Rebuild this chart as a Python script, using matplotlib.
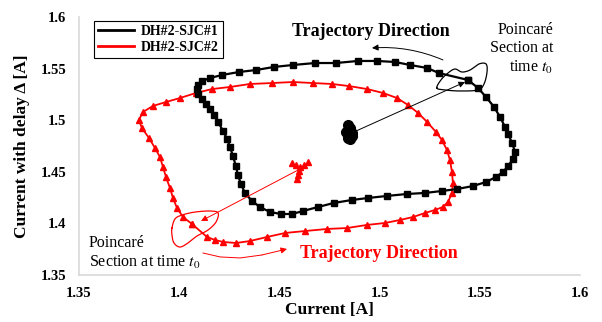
import numpy as np
import matplotlib.pyplot as plt
from matplotlib.lines import Line2D

plt.rcParams['font.family'] = 'Liberation Serif'
plt.rcParams['mathtext.fontset'] = 'stix'

# DH#2-SJC#1 limit cycle (current, current with delay)
sjc1_x = [1.5441, 1.5296, 1.5237, 1.5152, 1.5077, 1.4987, 1.4892, 1.4782, 1.4678,
          1.4568, 1.4473, 1.4383, 1.4298, 1.4214, 1.4154, 1.4114, 1.4094, 1.4089,
          1.4094, 1.4114, 1.4134, 1.4154, 1.4174, 1.4194, 1.4219, 1.4239, 1.4254,
          1.4268, 1.4283, 1.4293, 1.4308, 1.4328, 1.4363, 1.4403, 1.4453, 1.4508,
          1.4563, 1.4618, 1.4693, 1.4772, 1.4862, 1.4942, 1.5037, 1.5137, 1.5227,
          1.5311, 1.5386, 1.5466, 1.5531, 1.5581, 1.5616, 1.5641, 1.5666, 1.5676,
          1.5661, 1.5641, 1.5626, 1.5601, 1.5571, 1.5531, 1.5491, 1.5441]
sjc1_y = [1.5390, 1.5457, 1.5506, 1.5535, 1.5564, 1.5574, 1.5574, 1.5554, 1.5554,
          1.5535, 1.5516, 1.5486, 1.5467, 1.5438, 1.5409, 1.5380, 1.5341, 1.5302,
          1.5254, 1.5205, 1.5157, 1.5109, 1.5050, 1.4983, 1.4895, 1.4818, 1.4740,
          1.4653, 1.4556, 1.4469, 1.4382, 1.4295, 1.4217, 1.4159, 1.4110, 1.4091,
          1.4091, 1.4120, 1.4159, 1.4198, 1.4227, 1.4246, 1.4266, 1.4285, 1.4295,
          1.4314, 1.4333, 1.4362, 1.4401, 1.4450, 1.4498, 1.4556, 1.4624, 1.4692,
          1.4779, 1.4866, 1.4934, 1.5031, 1.5128, 1.5225, 1.5312, 1.5390]

# DH#2-SJC#2 limit cycle
sjc2_x = [1.4064, 1.4139, 1.4179, 1.4219, 1.4284, 1.4353, 1.4438, 1.4528, 1.4628,
          1.4738, 1.4837, 1.4937, 1.5027, 1.5102, 1.5167, 1.5227, 1.5276, 1.5316,
          1.5341, 1.5361, 1.5366, 1.5361, 1.5351, 1.5336, 1.5311, 1.5281, 1.5237,
          1.5192, 1.5142, 1.5087, 1.5017, 1.4937, 1.4847, 1.4762, 1.4668, 1.4568,
          1.4463, 1.4353, 1.4254, 1.4164, 1.4084, 1.4004, 1.3934, 1.3869, 1.3819,
          1.3799, 1.3814, 1.3849, 1.3879, 1.3904, 1.3919, 1.3934, 1.3954, 1.3969,
          1.3989, 1.4019, 1.4064]
sjc2_y = [1.3994, 1.3868, 1.3839, 1.3820, 1.3810, 1.3829, 1.3868, 1.3907, 1.3926,
          1.3946, 1.3955, 1.3985, 1.4004, 1.4033, 1.4062, 1.4101, 1.4130, 1.4159,
          1.4207, 1.4295, 1.4391, 1.4498, 1.4614, 1.4711, 1.4808, 1.4886, 1.4983,
          1.5070, 1.5147, 1.5215, 1.5264, 1.5302, 1.5331, 1.5351, 1.5360, 1.5370,
          1.5360, 1.5351, 1.5322, 1.5302, 1.5264, 1.5215, 1.5176, 1.5138, 1.5079,
          1.5002, 1.4924, 1.4828, 1.4731, 1.4643, 1.4547, 1.4450, 1.4343, 1.4246,
          1.4149, 1.4062, 1.3994]

# Poincare section samples
sec1_x = [1.4842, 1.4860, 1.4834, 1.4850, 1.4840, 1.4864, 1.4850, 1.4856]
sec1_y = [1.4830, 1.4845, 1.4890, 1.4925, 1.4950, 1.4880, 1.4815, 1.4860]
sec2_x = [1.4563, 1.4583, 1.4603, 1.4623, 1.4643, 1.4598, 1.4593, 1.4588]
sec2_y = [1.4585, 1.4566, 1.4547, 1.4566, 1.4595, 1.4508, 1.4469, 1.4430]

# hand-drawn outlines around the section crossings
ring1_x = [1.5286, 1.5306, 1.5341, 1.5376, 1.5411, 1.5451, 1.5496, 1.5531, 1.5536,
           1.5521, 1.5491, 1.5401, 1.5326]
ring1_y = [1.5312, 1.5390, 1.5457, 1.5496, 1.5467, 1.5486, 1.5545, 1.5545, 1.5467,
           1.5351, 1.5293, 1.5283, 1.5293]
ring2_x = [1.3964, 1.3979, 1.4014, 1.4079, 1.4154, 1.4194, 1.4184, 1.4144, 1.4089,
           1.4044, 1.4004, 1.3974, 1.3964]
ring2_y = [1.3955, 1.4043, 1.4081, 1.4110, 1.4120, 1.4101, 1.4014, 1.3936, 1.3878,
           1.3810, 1.3771, 1.3810, 1.3888]

# red direction stroke along the bottom
dir2_x = [1.4119, 1.4204, 1.4304, 1.4413, 1.4538]
dir2_y = [1.3713, 1.3675, 1.3665, 1.3694, 1.3752]

xticks = [1.35, 1.4, 1.45, 1.5, 1.55, 1.6]
yticks = [1.35, 1.4, 1.45, 1.5, 1.55, 1.6]

RED = '#ff0000'


def closed_curve(xs, ys, n=16):
    pts = np.column_stack([xs, ys])
    N = len(pts)
    t = np.linspace(0, 1, n, endpoint=False)[:, None]
    segs = []
    for i in range(N):
        p0, p1, p2, p3 = pts[i - 1], pts[i], pts[(i + 1) % N], pts[(i + 2) % N]
        segs.append(0.5 * (2 * p1 + (-p0 + p2) * t
                           + (2 * p0 - 5 * p1 + 4 * p2 - p3) * t ** 2
                           + (-p0 + 3 * p1 - 3 * p2 + p3) * t ** 3))
    c = np.vstack(segs + [segs[0][:1]])
    return c[:, 0], c[:, 1]


fig = plt.figure(figsize=(6.02, 3.22), dpi=100)
ax = fig.add_axes([0.1312, 0.146, 0.8323, 0.8012])

ax.plot(sjc2_x, sjc2_y, color=RED, lw=1.3, marker='^', ms=4.5, zorder=3)
ax.plot(sjc1_x, sjc1_y, color='black', lw=1.6, marker='s', ms=4.2, zorder=4)
ax.plot(sec1_x, sec1_y, 'o', color='black', ms=7, zorder=5)
ax.plot(sec2_x, sec2_y, '^', color=RED, ms=5, zorder=5)

rx, ry = closed_curve(ring1_x, ring1_y)
ax.plot(rx, ry, color='black', lw=0.9, zorder=2)
rx, ry = closed_curve(ring2_x, ring2_y)
ax.plot(rx, ry, color=RED, lw=0.9, zorder=2)

# section pointers
ax.annotate('', xy=(1.5426, 1.5370), xytext=(1.4872, 1.4886),
            arrowprops=dict(arrowstyle='-|>', color='black', lw=0.7,
                            mutation_scale=9, shrinkA=0, shrinkB=0), zorder=6)
ax.annotate('', xy=(1.4109, 1.4023), xytext=(1.4593, 1.4517),
            arrowprops=dict(arrowstyle='-|>', color=RED, lw=0.7,
                            mutation_scale=9, shrinkA=0, shrinkB=0), zorder=6)

# trajectory direction arrows
ax.annotate('', xy=(1.4962, 1.5700), xytext=(1.5316, 1.5584),
            arrowprops=dict(arrowstyle='-|>', color='black', lw=0.7,
                            mutation_scale=9, shrinkA=0, shrinkB=0,
                            connectionstyle='arc3,rad=0.12'))
ax.plot(dir2_x[:-1], dir2_y[:-1], color=RED, lw=0.7)
ax.annotate('', xy=(dir2_x[-1], dir2_y[-1]), xytext=(dir2_x[-2], dir2_y[-2]),
            arrowprops=dict(arrowstyle='-|>', color=RED, lw=0.7,
                            mutation_scale=9, shrinkA=0, shrinkB=0))

ax.text(1.4958, 1.5855, 'Trajectory Direction', fontsize=13, fontweight='bold',
        ha='center', va='center')
ax.text(1.4995, 1.3705, 'Trajectory Direction', fontsize=13, fontweight='bold',
        ha='center', va='center', color=RED)
ax.text(1.5865, 1.5690, 'Poincaré\nSection at\ntime $t_0$', fontsize=11.5,
        ha='right', va='center', linespacing=1.2)
ax.text(1.355, 1.3712, 'Poincaré\nSection at time $t_0$', fontsize=11.5,
        ha='left', va='center', linespacing=1.2)

ax.set_xlim(1.35, 1.6)
ax.set_ylim(1.35, 1.6)
ax.set_xticks(xticks)
ax.set_yticks(yticks)
ax.set_xticklabels([f'{v:g}' for v in xticks])
ax.set_yticklabels([f'{v:g}' for v in yticks])
for lab in ax.get_xticklabels() + ax.get_yticklabels():
    lab.set_fontweight('bold')
    lab.set_fontsize(10.5)
ax.tick_params(length=0, pad=9)

for side in ['top', 'right']:
    ax.spines[side].set_visible(False)
for side in ['left', 'bottom']:
    ax.spines[side].set_color('#d9d9d9')
    ax.spines[side].set_linewidth(1.2)

ax.set_xlabel('Current [A]', fontsize=12.5, fontweight='bold', labelpad=1)
ax.set_ylabel('Current with delay Δ [A]', fontsize=12.5, fontweight='bold', labelpad=8)

handles = [Line2D([], [], color='black', lw=2),
           Line2D([], [], color=RED, lw=2)]
leg = ax.legend(handles, ['DH#2-SJC#1', 'DH#2-SJC#2'], loc='upper left',
                bbox_to_anchor=(0.03, 0.985), borderaxespad=0, fancybox=False,
                framealpha=1, edgecolor='black', handlelength=2.6,
                prop={'weight': 'bold', 'size': 10}, borderpad=0.3,
                labelspacing=0.2, handletextpad=0.5)
leg.get_frame().set_linewidth(0.8)

fig.savefig('out.png', dpi=100)
